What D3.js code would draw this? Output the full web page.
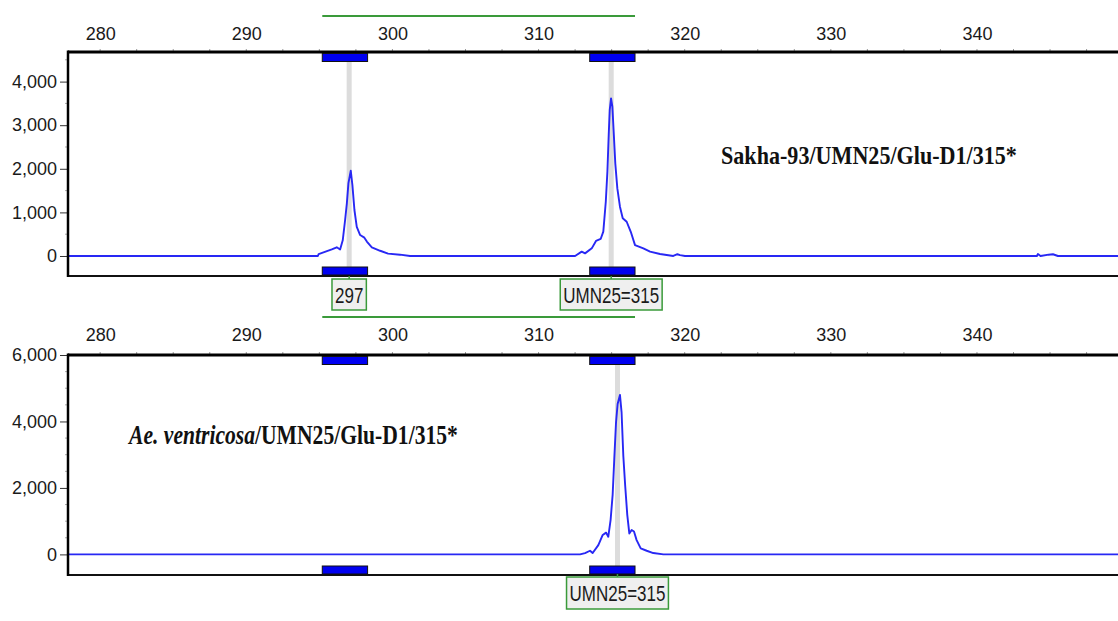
<!DOCTYPE html>
<html>
<head>
<meta charset="utf-8">
<script src="https://cdn.jsdelivr.net/npm/d3@7"></script>
<style>
  body { margin: 0; background: #fff; }
  svg { display: block; font-family: "Liberation Sans", Arial, sans-serif; }
</style>
</head>
<body>
<svg></svg>
<script>
// Electropherogram, two panels (UMN25 marker)

// Data
var sizeTicks = [280, 290, 300, 310, 320, 330, 340];
var binStarts = [295.2, 313.5],
    binEnds = [298.3, 316.6];

var topSizes = [277.8, 294.9, 294.95, 295.85, 296.19, 296.42, 296.6, 296.76, 296.88, 296.99,
                297.15, 297.26, 297.4, 297.56, 297.79, 298.08, 298.25, 298.59, 299.16, 299.7,
                300.52, 301.21, 312.5, 312.95, 313.18, 313.64, 313.93, 314.25, 314.43, 314.6,
                314.71, 314.8, 314.87, 314.96, 315.05, 315.14, 315.25, 315.39, 315.57, 315.76,
                316.03, 316.31, 316.6, 317.17, 317.63, 318.31, 319.22, 319.5, 319.68, 320.02,
                344.1, 344.17, 344.35, 344.9, 345.2, 345.54, 349.65];
var topRfu = [0, 0, 45, 150, 200, 150, 360, 820, 1200, 1670,
              1955, 1630, 1055, 670, 480, 420, 330, 200, 120, 55,
              30, 0, 0, 100, 60, 175, 345, 390, 560, 1245,
              1935, 2775, 3350, 3615, 3425, 2850, 2125, 1550, 1130, 865,
              785, 555, 250, 175, 100, 45, 0, 40, 20, 0,
              0, 45, 0, 30, 40, 0, 0];

var bottomSizes = [277.8, 312.84, 313.18, 313.52, 313.7, 314.09, 314.39, 314.62, 314.77, 314.93,
                   315.07, 315.18, 315.3, 315.41, 315.57, 315.68, 315.8, 315.93, 316.07, 316.21,
                   316.37, 316.53, 316.71, 316.99, 317.4, 317.85, 318.54, 349.65];
var bottomRfu = [0, 0, 40, 110, 40, 280, 585, 655, 530, 1040,
                 1800, 2860, 3970, 4525, 4800, 4275, 2960, 2050, 1190, 630,
                 735, 690, 430, 180, 110, 40, 0, 0];

var topYTicks = [0, 1000, 2000, 3000, 4000],
    bottomYTicks = [0, 2000, 4000, 6000];

var topCalls = [297.04, 314.97],
    topCallLabels = ["297", "UMN25=315"];
var bottomCalls = [315.4],
    bottomCallLabels = ["UMN25=315"];

// Layout
var svgWidth = 1118,
    svgHeight = 621,
    plotLeft = 68,
    plotRight = 1118;

var svg = d3.select("svg")
  .attr("width", svgWidth)
  .attr("height", svgHeight);

var x = d3.scaleLinear().domain([277.8, 349.65]).range([plotLeft, plotRight]);

var panels = [
  {
    top: 52, bottom: 276, yDomain: [-459, 4679], yTicks: topYTicks, minorStep: 500,
    labelPad: 12, greenY: 16, boxTop: 279, boxH: 31,
    sizes: topSizes, rfu: topRfu, calls: topCalls, callLabels: topCallLabels
  },
  {
    top: 355, bottom: 575, yDomain: [-620, 6000], yTicks: bottomYTicks, minorStep: 500,
    labelPad: 14, greenY: 317, boxTop: 577, boxH: 32,
    sizes: bottomSizes, rfu: bottomRfu, calls: bottomCalls, callLabels: bottomCallLabels
  }
];

panels.forEach(drawPanel);
drawTitles();

function drawPanel(p) {
  var y = d3.scaleLinear().domain(p.yDomain).range([p.bottom, p.top]);
  var g = svg.append("g");

  // green marker range line
  g.append("line")
    .attr("x1", x(binStarts[0])).attr("x2", x(binEnds[binEnds.length - 1]))
    .attr("y1", p.greenY).attr("y2", p.greenY)
    .attr("stroke", "#3a9a3a").attr("stroke-width", 2);

  // grey allele call bands
  g.selectAll(".band")
    .data(p.calls)
    .enter().append("rect")
      .attr("x", function (d) { return x(d) - 2.5; })
      .attr("y", p.top + 8)
      .attr("width", 5)
      .attr("height", p.bottom - p.top - 16)
      .attr("fill", "#dcdcdc");

  // trace
  var pts = p.sizes.map(function (s, i) { return [s, p.rfu[i]]; });
  g.append("path")
    .datum(pts)
    .attr("fill", "none")
    .attr("stroke", "#2828f4")
    .attr("stroke-width", 1.9)
    .attr("stroke-linejoin", "round")
    .attr("d", d3.line()
      .x(function (d) { return x(d[0]); })
      .y(function (d) { return y(d[1]); }));

  // size axis on top
  var axT = g.append("g")
    .attr("transform", "translate(0," + p.top + ")")
    .call(d3.axisTop(x).tickValues(sizeTicks).tickSize(0).tickPadding(p.labelPad));
  axT.select(".domain").remove();
  axT.selectAll("text")
    .attr("font-family", "Liberation Sans, Arial, sans-serif")
    .attr("font-size", 18).attr("fill", "#1a1a1a");

  var minor = d3.range(277.5, 350, 2.5).filter(function (d) { return d > 277.8; });
  g.selectAll(".minor")
    .data(minor)
    .enter().append("line")
      .attr("x1", function (d) { return x(d); }).attr("x2", function (d) { return x(d); })
      .attr("y1", p.top - 3).attr("y2", p.top)
      .attr("stroke", "#999").attr("stroke-width", 1);

  // rfu axis on the left
  var axL = g.append("g")
    .attr("transform", "translate(" + plotLeft + ",0)")
    .call(d3.axisLeft(y).tickValues(p.yTicks).tickSize(8).tickPadding(3)
      .tickFormat(d3.format(",")));
  axL.select(".domain").remove();
  axL.selectAll("line").attr("stroke", "#333");
  axL.selectAll("text")
    .attr("font-family", "Liberation Sans, Arial, sans-serif")
    .attr("font-size", 18).attr("fill", "#1a1a1a");

  g.selectAll(".yminor")
    .data(d3.range(0, p.yDomain[1], p.minorStep).filter(function (d) { return p.yTicks.indexOf(d) < 0; }))
    .enter().append("line")
      .attr("x1", plotLeft - 3).attr("x2", plotLeft)
      .attr("y1", function (d) { return y(d); }).attr("y2", function (d) { return y(d); })
      .attr("stroke", "#aaa");

  // frame
  g.append("line")
    .attr("x1", plotLeft).attr("x2", plotRight)
    .attr("y1", p.top).attr("y2", p.top)
    .attr("stroke", "#000").attr("stroke-width", 3);
  g.append("line")
    .attr("x1", plotLeft).attr("x2", plotRight)
    .attr("y1", p.bottom).attr("y2", p.bottom)
    .attr("stroke", "#111").attr("stroke-width", 2);
  g.append("line")
    .attr("x1", plotLeft).attr("x2", plotLeft)
    .attr("y1", p.top - 1.5).attr("y2", p.bottom + 1)
    .attr("stroke", "#000").attr("stroke-width", 2.5);

  // bins, top and bottom
  [p.top + 1.5, p.bottom - 9].forEach(function (by) {
    g.selectAll(null)
      .data(binStarts)
      .enter().append("rect")
        .attr("x", function (d) { return x(d); })
        .attr("y", by)
        .attr("width", function (d, i) { return x(binEnds[i]) - x(d); })
        .attr("height", 8)
        .attr("fill", "#0000f0")
        .attr("stroke", "#111")
        .attr("stroke-width", 1);
  });

  // call labels
  var boxes = g.selectAll(".call")
    .data(p.calls)
    .enter().append("g")
      .attr("transform", function (d) { return "translate(" + x(d) + "," + p.boxTop + ")"; });

  boxes.append("line")
    .attr("y1", -3).attr("y2", 0)
    .attr("stroke", "#3a9a3a").attr("stroke-width", 1.5);

  var rects = boxes.append("rect")
    .attr("fill", "#efefef")
    .attr("stroke", "#3a9a3a")
    .attr("stroke-width", 1.5);

  var texts = boxes.append("text")
    .attr("text-anchor", "middle")
    .attr("font-size", 17)
    .attr("fill", "#1a1a1a")
    .attr("transform", "translate(0," + (p.boxH / 2 + 8) + ") scale(1,1.35)")
    .text(function (d, i) { return p.callLabels[i]; });

  texts.each(function (d, i) {
    var w = this.getComputedTextLength() + 6;
    d3.select(rects.nodes()[i])
      .attr("x", -w / 2).attr("y", 0)
      .attr("width", w).attr("height", p.boxH);
  });
}

function fitText(sel, left, baseline, width) {
  var w = sel.node().getComputedTextLength();
  sel.attr("transform", "translate(" + left + "," + baseline + ") scale(" + (width / w) + ",1)");
}

function drawTitles() {
  var t1 = svg.append("text")
    .attr("font-family", "Liberation Serif, Times New Roman, serif")
    .attr("font-weight", 700)
    .attr("font-size", 26)
    .attr("fill", "#111")
    .text("Sakha-93/UMN25/Glu-D1/315*");
  fitText(t1, 721, 164, 296);

  var t2 = svg.append("text")
    .attr("font-family", "Liberation Serif, Times New Roman, serif")
    .attr("font-weight", 700)
    .attr("font-size", 28)
    .attr("fill", "#111");
  t2.append("tspan").attr("font-style", "italic").text("Ae. ventricosa");
  t2.append("tspan").text("/UMN25/Glu-D1/315*");
  fitText(t2, 129, 444, 329);
}
</script>
</body>
</html>
